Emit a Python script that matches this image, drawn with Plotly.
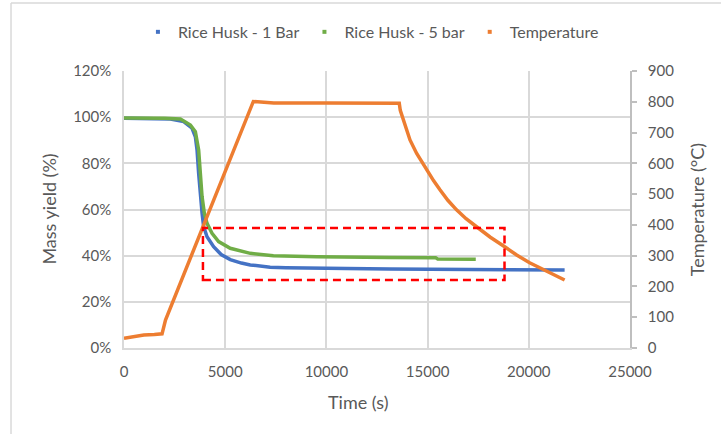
import plotly.graph_objects as go

# ---- data ----
t_1bar = [0, 1000, 2000, 2293, 2949, 3363, 3526, 3609, 3688, 3772, 3856, 3935, 4103, 4428,
          4800, 5250, 5800, 6240, 7220, 8000, 9530, 11000, 13140, 16900, 17000, 19000, 21770]
y_1bar = [0.995, 0.995, 0.994, 0.992, 0.981, 0.952, 0.915, 0.858, 0.757, 0.656, 0.584, 0.526, 0.482, 0.439,
          0.405, 0.383, 0.368, 0.360, 0.350, 0.348, 0.345, 0.344, 0.342, 0.341, 0.338, 0.338, 0.338]

t_5bar = [0, 1000, 2000, 2786, 3279, 3526, 3688, 3772, 3856, 3969, 4103, 4349, 4675,
          5250, 5800, 6240, 7380, 8500, 9530, 13140, 15400, 15500, 17380]
y_5bar = [0.996, 0.996, 0.995, 0.992, 0.966, 0.937, 0.858, 0.757, 0.656, 0.584, 0.540, 0.497, 0.461,
          0.432, 0.418, 0.410, 0.400, 0.397, 0.395, 0.392, 0.391, 0.386, 0.384]

t_temp = [0, 500, 980, 1500, 1880, 2050, 6390, 6600, 7400, 10000, 13600, 13650, 13800, 13950, 14130,
          14460, 14750, 15030, 15300, 15610, 16000, 16430, 16900, 17420, 18100, 18810, 19400,
          20040, 20780, 21300, 21770]
y_temp = [32, 38, 42, 44, 46, 91, 801, 800, 796, 796, 795, 772, 740, 708, 676,
          632, 600, 572, 543, 514, 480, 449, 420, 394, 360, 329, 302,
          277, 253, 236, 221]

names = ["Rice Husk - 1 Bar", "Rice Husk - 5 bar", "Temperature"]
colors = ["#4472C4", "#70AD47", "#ED7D31"]

# highlight box (time, mass yield)
box_t = [3900, 18800]
box_y = [0.295, 0.52]

FONT = "Lato"
TXT = "#595959"
GRID = "#D9D9D9"

fig = go.Figure()
fig.add_trace(go.Scatter(x=t_1bar, y=y_1bar, mode="lines", line=dict(color=colors[0], width=3.5),
                         showlegend=False))
fig.add_trace(go.Scatter(x=t_5bar, y=y_5bar, mode="lines", line=dict(color=colors[1], width=3.5),
                         showlegend=False))
fig.add_trace(go.Scatter(x=t_temp, y=y_temp, mode="lines", line=dict(color=colors[2], width=3.5),
                         yaxis="y2", showlegend=False))
# legend entries (small square markers as in the reference)
for n, c in zip(names, colors):
    fig.add_trace(go.Scatter(x=[None], y=[None], mode="markers", name=n,
                             marker=dict(symbol="square", size=4, color=c)))

fig.add_shape(type="rect", xref="x", yref="y", x0=box_t[0], x1=box_t[1], y0=box_y[0], y1=box_y[1],
              line=dict(color="#FF0000", width=2.5, dash="8px,5px"))

# chart-area frame (partially visible)
fig.add_shape(type="line", xref="paper", yref="paper", x0=-0.2233, x1=-0.2233, y0=-0.32, y1=1.2455,
              line=dict(color=GRID, width=1.5))
fig.add_shape(type="line", xref="paper", yref="paper", x0=-0.2233, x1=1.2, y0=1.2455, y1=1.2455,
              line=dict(color=GRID, width=1.5))

fig.update_layout(
    width=721, height=434,
    margin=dict(l=124, r=91, t=71, b=86),
    paper_bgcolor="white", plot_bgcolor="white",
    font=dict(family=FONT, size=15, color=TXT),
    xaxis=dict(range=[0, 25000], dtick=5000, tickformat="d", showgrid=True, gridcolor=GRID, gridwidth=1.5,
               showline=True, linecolor=GRID, linewidth=1.5, zeroline=False, ticks="",
               ticklabelstandoff=9, tickfont=dict(size=15, color=TXT)),
    yaxis=dict(range=[0, 1.2], dtick=0.2, tickformat=".0%", showgrid=True, gridcolor=GRID, gridwidth=1.5,
               showline=True, linecolor=GRID, linewidth=1.5, zeroline=False, ticks="",
               ticklabelstandoff=8, tickfont=dict(size=15, color=TXT)),
    yaxis2=dict(range=[0, 900], dtick=100, overlaying="y", side="right", showgrid=False,
                showline=True, linecolor="#BFBFBF", linewidth=1.5, zeroline=False,
                ticks="outside", ticklen=5, tickcolor="#BFBFBF", tickwidth=1.5,
                ticklabelstandoff=8, tickfont=dict(size=15, color=TXT)),
    legend=dict(orientation="h", x=0.488, xanchor="center", y=1.141, yanchor="middle",
                font=dict(size=16, color=TXT), itemwidth=30, bgcolor="rgba(0,0,0,0)"),
    annotations=[
        dict(text="Time (s)", xref="paper", yref="paper", x=0.4625, y=-0.195, showarrow=False,
             xanchor="center", yanchor="middle", font=dict(size=18, color=TXT)),
        dict(text="Mass yield (%)", xref="paper", yref="paper", x=-0.150, y=0.5, showarrow=False,
             textangle=-90, xanchor="center", yanchor="middle", font=dict(size=18, color=TXT)),
        dict(text="Temperature (°C)", xref="paper", yref="paper", x=1.132, y=0.5, showarrow=False,
             textangle=-90, xanchor="center", yanchor="middle", font=dict(size=18, color=TXT)),
    ],
)

fig.write_html("out.html")
